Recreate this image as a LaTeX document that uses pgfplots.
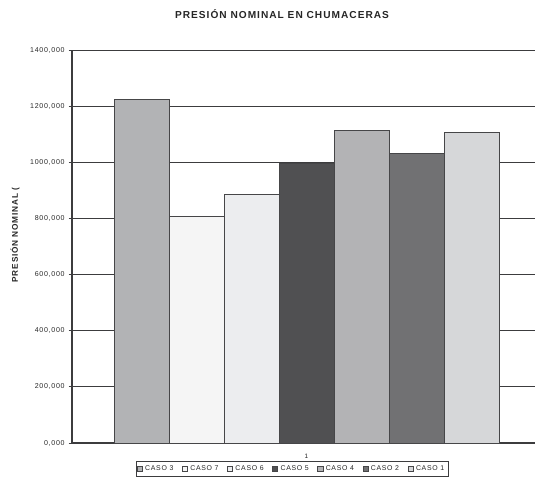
\documentclass[border=0pt]{standalone}
\usepackage{fontspec}
\usepackage{pgfplots}
\pgfplotsset{compat=1.18}
\setmainfont{Liberation Sans}
\newfontfamily\chartfont[LetterSpace=10]{Liberation Sans}

\definecolor{cA}{RGB}{178,179,181}
\definecolor{cB}{RGB}{245,245,245}
\definecolor{cC}{RGB}{236,237,239}
\definecolor{cD}{RGB}{80,80,82}
\definecolor{cE}{RGB}{179,179,181}
\definecolor{cF}{RGB}{113,113,115}
\definecolor{cG}{RGB}{214,215,217}
\definecolor{edge}{RGB}{70,70,72}
\definecolor{gridc}{RGB}{60,60,62}

\begin{document}
\begin{tikzpicture}
\useasboundingbox (0,0) rectangle (401.25pt,357pt);
\begin{axis}[
  at={(54pt,24.75pt)}, anchor=south west,
  scale only axis,
  width=347.25pt, height=294.75pt,
  xmin=-3.2636, xmax=5.1545,
  ymin=0, ymax=1400,
  axis x line*=bottom, axis y line*=left,
  axis line style={gridc, line width=0.8pt},
  ytick={0,200,...,1400},
  xtick={1}, xticklabels={1},
  x tick style={draw=none},
  y tick style={gridc, line width=0.6pt},
  tick align=outside, major tick length=2.5pt,
  ymajorgrids,
  major grid style={gridc, line width=0.6pt},
  yticklabel style={font=\chartfont\fontsize{5.3}{6}\selectfont, text=black!85, xshift=0.5pt},
  xticklabel style={font=\chartfont\fontsize{4.8}{5}\selectfont, text=black!85, yshift=-2pt},
  /pgf/number format/.cd, fixed, fixed zerofill, precision=3, use comma, 1000 sep={}, assume math mode=true,
  /pgfplots/.cd,
  ylabel={PRESIÓN NOMINAL (},
  ylabel style={font=\chartfont\bfseries\fontsize{6.2}{7}\selectfont, text=black!85,
    at={(-0.1231,0.529)}, anchor=center},
  ybar, bar width=1,
  legend columns=7,
  legend style={font=\chartfont\fontsize{5.2}{6}\selectfont, text=black!85,
    at={(0.475,-0.066)}, anchor=center, draw=gridc, line width=0.5pt,
    inner sep=0.8pt, /tikz/every even column/.append style={column sep=4.5pt}},
  legend image code/.code={\draw[#1, line width=0.4pt] (0pt,-1.8pt) rectangle (3.8pt,2pt);},
  every axis plot/.append style={draw=edge, line width=0.7pt},
]
\addplot[fill=cA, bar shift=-3] coordinates {(1,1225)};
\addplot[fill=cB, bar shift=-2] coordinates {(1,806)};
\addplot[fill=cC, bar shift=-1] coordinates {(1,885)};
\addplot[fill=cD, bar shift=0]  coordinates {(1,995)};
\addplot[fill=cE, bar shift=1]  coordinates {(1,1112)};
\addplot[fill=cF, bar shift=2]  coordinates {(1,1030)};
\addplot[fill=cG, bar shift=3]  coordinates {(1,1106)};
\legend{CASO 3,CASO 7,CASO 6,CASO 5,CASO 4,CASO 2,CASO 1}
\end{axis}
% chart title above the plot area
\node[font=\chartfont\bfseries\fontsize{7.6}{8}\selectfont, text=black!85, anchor=center]
  at (211.5pt,346.5pt) {PRESIÓN NOMINAL EN CHUMACERAS};
\end{tikzpicture}
\end{document}
